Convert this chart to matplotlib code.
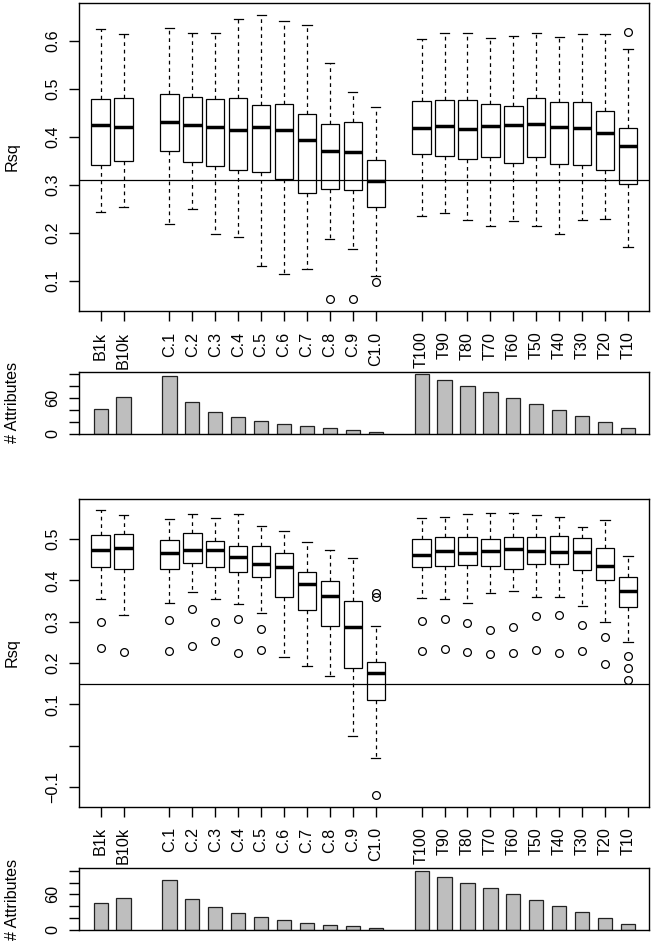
import matplotlib
matplotlib.use('Agg')
import matplotlib.pyplot as plt
import numpy as np

plt.rcParams['font.family'] = ['Liberation Sans', 'DejaVu Sans']
plt.rcParams['font.size'] = 11.6

# category labels, in three groups (baseline, C-cut, top-T)
labels = ['B1k', 'B10k',
          'C.1', 'C.2', 'C.3', 'C.4', 'C.5', 'C.6', 'C.7', 'C.8', 'C.9', 'C1.0',
          'T100', 'T90', 'T80', 'T70', 'T60', 'T50', 'T40', 'T30', 'T20', 'T10']
group_sizes = [2, 10, 10]

# upper panel: box statistics for Rsq
top_whishi = [0.624, 0.613, 0.626, 0.616, 0.615, 0.645, 0.654, 0.641, 0.632, 0.554, 0.494, 0.462,
              0.603, 0.616, 0.617, 0.606, 0.610, 0.617, 0.608, 0.613, 0.613, 0.582]
top_q3 = [0.478, 0.481, 0.488, 0.483, 0.479, 0.481, 0.467, 0.468, 0.448, 0.427, 0.431, 0.351,
          0.474, 0.476, 0.477, 0.469, 0.463, 0.480, 0.472, 0.472, 0.454, 0.419]
top_med = [0.424, 0.421, 0.431, 0.424, 0.420, 0.414, 0.421, 0.413, 0.393, 0.371, 0.368, 0.308,
           0.419, 0.422, 0.417, 0.422, 0.424, 0.427, 0.420, 0.419, 0.408, 0.380]
top_q1 = [0.341, 0.349, 0.371, 0.347, 0.340, 0.331, 0.327, 0.311, 0.283, 0.292, 0.290, 0.254,
          0.363, 0.359, 0.353, 0.358, 0.346, 0.358, 0.344, 0.342, 0.331, 0.301]
top_whislo = [0.243, 0.253, 0.219, 0.250, 0.197, 0.192, 0.131, 0.114, 0.124, 0.188, 0.167, 0.109,
              0.235, 0.242, 0.226, 0.213, 0.224, 0.213, 0.197, 0.226, 0.228, 0.170]
top_fliers = [[], [], [], [], [], [], [], [], [], [0.061], [0.062], [0.098],
              [], [], [], [], [], [], [], [], [], [0.619]]
top_ref = 0.31
top_attr = [42, 61, 97, 54, 37, 28, 22, 17, 13, 10, 7, 4,
            100, 90, 80, 70, 60, 50, 40, 30, 20, 10]

# lower panel
bot_whishi = [0.569, 0.559, 0.548, 0.560, 0.550, 0.560, 0.531, 0.519, 0.492, 0.474, 0.454, 0.290,
              0.550, 0.553, 0.561, 0.562, 0.564, 0.559, 0.553, 0.529, 0.545, 0.460]
bot_q3 = [0.509, 0.511, 0.498, 0.514, 0.496, 0.482, 0.482, 0.465, 0.419, 0.398, 0.351, 0.202,
          0.500, 0.505, 0.505, 0.500, 0.505, 0.506, 0.508, 0.502, 0.477, 0.407]
bot_med = [0.474, 0.479, 0.465, 0.473, 0.473, 0.457, 0.440, 0.433, 0.390, 0.361, 0.288, 0.175,
           0.462, 0.471, 0.466, 0.472, 0.476, 0.471, 0.468, 0.468, 0.435, 0.375]
bot_q1 = [0.433, 0.428, 0.427, 0.443, 0.432, 0.421, 0.408, 0.359, 0.328, 0.290, 0.188, 0.110,
          0.433, 0.435, 0.437, 0.435, 0.428, 0.439, 0.439, 0.426, 0.401, 0.335]
bot_whislo = [0.356, 0.315, 0.344, 0.372, 0.354, 0.342, 0.320, 0.215, 0.192, 0.169, 0.023, -0.030,
              0.358, 0.355, 0.344, 0.369, 0.374, 0.360, 0.360, 0.337, 0.298, 0.251]
bot_fliers = [[0.298, 0.237], [0.227], [0.303, 0.228], [0.331, 0.241], [0.300, 0.252],
              [0.306, 0.224], [0.282, 0.232], [], [], [], [], [0.370, 0.359, -0.120],
              [0.302, 0.228], [0.306, 0.234], [0.296, 0.226], [0.279, 0.221], [0.288, 0.224],
              [0.314, 0.232], [0.315, 0.223], [0.291, 0.230], [0.262, 0.198], [0.218, 0.188, 0.159]]
bot_ref = 0.15
bot_attr = [45, 54, 85, 53, 38, 29, 22, 17, 12, 9, 6, 3,
            100, 90, 80, 70, 60, 50, 40, 30, 20, 10]

top_yticks = [0.1, 0.2, 0.3, 0.4, 0.5, 0.6]
top_yticklabels = ['0.1', '0.2', '0.3', '0.4', '0.5', '0.6']
bot_yticks = [-0.1, 0.0, 0.1, 0.2, 0.3, 0.4, 0.5]
bot_yticklabels = ['\u22120.1', '', '0.1', '0.2', '0.3', '0.4', '0.5']
bar_yticks = [0, 20, 40, 60, 80, 100]
bar_yticklabels = ['0', '', '', '60', '', '']


def group_positions(sizes):
    # one empty slot between groups, like at= in R
    pos = []
    start = 1
    for n in sizes:
        pos.extend(range(start, start + n))
        start += n + 1
    return pos


positions = group_positions(group_sizes)
XLIM = (0.07, 24.93)


def style_axes(ax):
    for sp in ax.spines.values():
        sp.set_linewidth(1.0)
        sp.set_color('black')
    ax.tick_params(axis='both', length=7.5, width=1.0, color='black')
    ax.tick_params(axis='y', pad=6, labelrotation=90)
    ax.tick_params(axis='x', pad=7.3, labelrotation=90)
    plt.setp(ax.get_yticklabels(), va='center')


def draw_box_panel(ax, whislo, q1, med, q3, whishi, fliers, ref, ylim, yticks, yticklabels):
    stats = []
    for i in range(len(labels)):
        stats.append({'whislo': whislo[i], 'q1': q1[i], 'med': med[i], 'q3': q3[i],
                      'whishi': whishi[i], 'fliers': np.array(fliers[i])})
    ax.bxp(stats, positions=positions, widths=0.8, capwidths=0.4,
           patch_artist=True, manage_ticks=False,
           boxprops=dict(facecolor='white', edgecolor='black', linewidth=0.9),
           whiskerprops=dict(color='black', linestyle=(0, (3, 3)), linewidth=0.9),
           capprops=dict(color='black', linewidth=0.9),
           medianprops=dict(color='black', linewidth=2.5, solid_capstyle='butt'),
           flierprops=dict(marker='o', markerfacecolor='none', markeredgecolor='black',
                           markersize=5.6, markeredgewidth=0.9))
    ax.axhline(ref, color='black', linewidth=0.9, zorder=5)
    ax.set_xlim(*XLIM)
    ax.set_ylim(*ylim)
    ax.set_yticks(yticks)
    ax.set_yticklabels(yticklabels)
    ax.set_xticks(positions)
    ax.set_xticklabels(labels)
    ax.set_ylabel('Rsq', va='center')
    ax.yaxis.set_label_coords(-0.117, 0.5)
    style_axes(ax)


def draw_bar_panel(ax, values):
    ax.bar(positions, values, width=0.62, color='#BEBEBE', edgecolor='#222222', linewidth=0.9)
    ax.set_xlim(*XLIM)
    ax.set_ylim(0, 104)
    ax.set_xticks([])
    ax.set_yticks(bar_yticks)
    ax.set_yticklabels(bar_yticklabels)
    ax.set_ylabel('# Attributes', va='center')
    ax.yaxis.set_label_coords(-0.117, 0.5)
    style_axes(ax)


fig = plt.figure(figsize=(6.54, 9.42), dpi=100)
W, H = 654.0, 942.0
left = 79.3 / W
width = 570.0 / W

ax1 = fig.add_axes([left, (H - 311) / H, width, 308 / H])
ax2 = fig.add_axes([left, (H - 434) / H, width, 62.5 / H])
ax3 = fig.add_axes([left, (H - 806.7) / H, width, 307.4 / H])
ax4 = fig.add_axes([left, (H - 930) / H, width, 61.7 / H])

draw_box_panel(ax1, top_whislo, top_q1, top_med, top_q3, top_whishi, top_fliers, top_ref,
               (0.037, 0.6785), top_yticks, top_yticklabels)
draw_bar_panel(ax2, top_attr)
draw_box_panel(ax3, bot_whislo, bot_q1, bot_med, bot_q3, bot_whishi, bot_fliers, bot_ref,
               (-0.1477, 0.596), bot_yticks, bot_yticklabels)
draw_bar_panel(ax4, bot_attr)

fig.savefig('out.png', dpi=100)
